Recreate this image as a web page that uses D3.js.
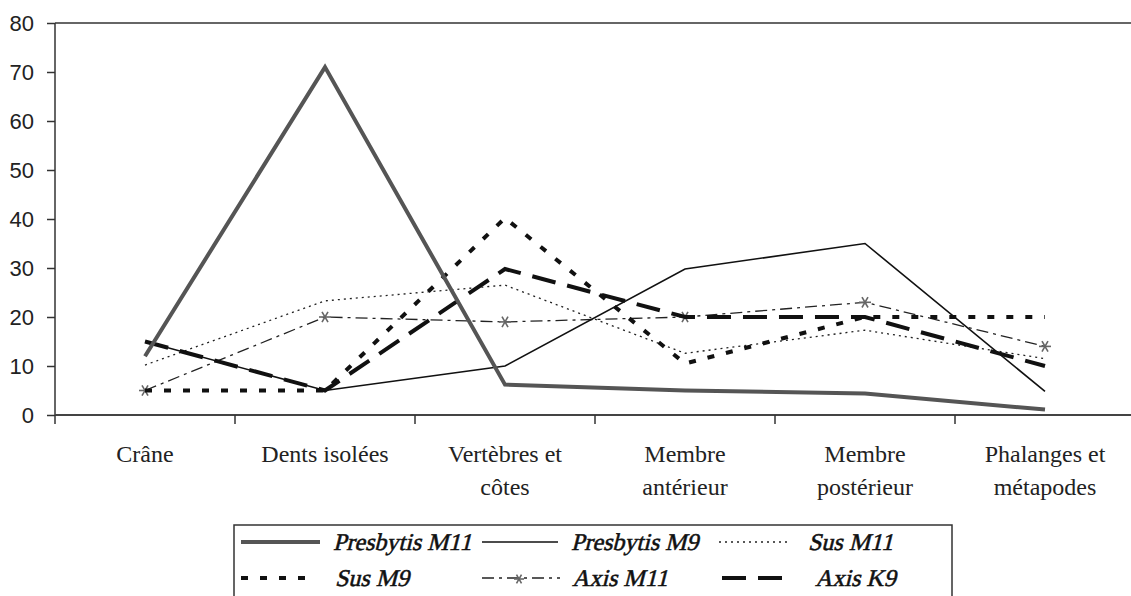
<!DOCTYPE html>
<html>
<head>
<meta charset="utf-8">
<script src="https://cdn.jsdelivr.net/npm/d3@7"></script>
<style>
  body { margin: 0; background: #fff; }
  svg { display: block; }
</style>
</head>
<body>
<svg id="chart" width="1131" height="596"></svg>
<script>
// categories (two-line labels)
var categories = ["Crâne", "Dents isolées", "Vertèbres et côtes", "Membre antérieur", "Membre postérieur", "Phalanges et métapodes"];
var categoryLines = [["Crâne"], ["Dents isolées"], ["Vertèbres et", "côtes"], ["Membre", "antérieur"], ["Membre", "postérieur"], ["Phalanges et", "métapodes"]];
var yTicks = [0, 10, 20, 30, 40, 50, 60, 70, 80];

var presbytisM11 = [12, 71, 6.2, 5, 4.4, 1.1];
var presbytisM9 = [15, 5, 10, 29.8, 35, 4.8];
var susM11 = [10.2, 23.3, 26.5, 12.6, 17.3, 11.5];
var susM9 = [5, 5, 40.2, 10.5, 20, 20];
var axisM11 = [5, 20, 19, 20, 23, 14];
var axisK9 = [15, 5, 29.8, 20, 20, 10];

var series = [
  { name: "Presbytis M11", values: presbytisM11, color: "#555", width: 4, dash: null },
  { name: "Presbytis M9", values: presbytisM9, color: "#111", width: 1.6, dash: null },
  { name: "Sus M11", values: susM11, color: "#222", width: 1.3, dash: "2,4" },
  { name: "Sus M9", values: susM9, color: "#111", width: 4, dash: "7,12" },
  { name: "Axis M11", values: axisM11, color: "#222", width: 1.3, dash: "12,5,3,5", marker: true },
  { name: "Axis K9", values: axisK9, color: "#111", width: 4, dash: "24,12" }
];

var svg = d3.select("#chart");
var plotLeft = 55, plotRight = 1135, plotTop = 23, plotBottom = 415;

var x = d3.scaleBand().domain(categories).range([plotLeft, plotRight]);
var y = d3.scaleLinear().domain([0, 80]).range([plotBottom, plotTop]);

/* frame */
svg.append("line").attr("x1", plotLeft).attr("x2", 1131).attr("y1", plotTop).attr("y2", plotTop)
  .attr("stroke", "#666").attr("stroke-width", 2);
svg.append("line").attr("x1", plotLeft).attr("x2", plotLeft).attr("y1", plotTop).attr("y2", plotBottom)
  .attr("stroke", "#333").attr("stroke-width", 1.5);

/* y axis */
var yAxis = svg.append("g").attr("transform", "translate(" + plotLeft + ",0)")
  .call(d3.axisLeft(y).tickValues(yTicks).tickSize(8).tickPadding(13));
yAxis.select(".domain").remove();
yAxis.selectAll("line").attr("stroke", "#333").attr("stroke-width", 1.5);
yAxis.selectAll("text").attr("font-family", "Liberation Sans, Arial, sans-serif")
  .attr("font-size", 22).attr("fill", "#222");

/* x axis: ticks at band edges */
var edges = categories.map(function(c) { return x(c); }).concat([plotRight]);
svg.append("line").attr("x1", plotLeft).attr("x2", 1131).attr("y1", plotBottom).attr("y2", plotBottom)
  .attr("stroke", "#444").attr("stroke-width", 2);
svg.selectAll(".xtick").data(edges).enter().append("line")
  .attr("class", "xtick")
  .attr("x1", function(d) { return d; }).attr("x2", function(d) { return d; })
  .attr("y1", plotBottom).attr("y2", plotBottom + 9)
  .attr("stroke", "#333").attr("stroke-width", 1.5);

var labels = svg.selectAll(".xlabel").data(categories).enter().append("text")
  .attr("class", "xlabel")
  .attr("text-anchor", "middle")
  .attr("font-family", "Liberation Serif, Times New Roman, serif")
  .attr("font-size", 24).attr("fill", "#222");
labels.each(function(c, i) {
  var t = d3.select(this);
  categoryLines[i].forEach(function(line, j) {
    t.append("tspan").attr("x", x(c) + x.bandwidth() / 2).attr("y", 462 + j * 33).text(line);
  });
});

/* lines */
var line = d3.line()
  .x(function(d, i) { return x(categories[i]) + x.bandwidth() / 2; })
  .y(function(d) { return y(d); });

function star(g, cx, cy, size, color) {
  [0, 60, 120].forEach(function(a) {
    var rad = a * Math.PI / 180;
    g.append("line")
      .attr("x1", cx - size * Math.cos(rad)).attr("y1", cy - size * Math.sin(rad))
      .attr("x2", cx + size * Math.cos(rad)).attr("y2", cy + size * Math.sin(rad))
      .attr("stroke", color).attr("stroke-width", 1.6);
  });
}

var order = [2, 4, 5, 3, 1, 0];
order.forEach(function(k) {
  var s = series[k];
  svg.append("path")
    .attr("d", line(s.values))
    .attr("fill", "none")
    .attr("stroke", s.color)
    .attr("stroke-width", s.width)
    .attr("stroke-dasharray", s.dash)
    .attr("stroke-linejoin", "miter");
  if (s.marker) {
    var g = svg.append("g");
    s.values.forEach(function(v, i) {
      star(g, x(categories[i]) + x.bandwidth() / 2, y(v), 6, "#666");
    });
  }
});

/* legend */
var legend = svg.append("g");
legend.append("rect").attr("x", 234).attr("y", 525).attr("width", 718).attr("height", 100)
  .attr("fill", "none").attr("stroke", "#333").attr("stroke-width", 1.5);

var legendPos = [
  { sx: 241, ex: 320, tx: 333, ty: 542 },
  { sx: 482, ex: 558, tx: 571, ty: 542 },
  { sx: 719, ex: 790, tx: 808, ty: 542 },
  { sx: 241, ex: 315, tx: 335, ty: 578 },
  { sx: 482, ex: 560, tx: 572, ty: 578 },
  { sx: 722, ex: 788, tx: 815, ty: 578 }
];

series.forEach(function(s, i) {
  var p = legendPos[i];
  legend.append("line")
    .attr("x1", p.sx).attr("x2", p.ex).attr("y1", p.ty).attr("y2", p.ty)
    .attr("stroke", s.color).attr("stroke-width", s.width)
    .attr("stroke-dasharray", s.dash);
  if (s.marker) star(legend, (p.sx + p.ex) / 2 - 2, p.ty + 1, 5, "#666");
  // serif italic faked with a skew, bold with a thin stroke
  legend.append("text")
    .attr("transform", "translate(" + p.tx + "," + (p.ty + 8) + ") skewX(-14)")
    .attr("font-family", "Liberation Serif, Times New Roman, serif")
    .attr("font-size", 24).attr("fill", "#111")
    .attr("stroke", "#111").attr("stroke-width", 0.55)
    .text(s.name);
});
</script>
</body>
</html>
